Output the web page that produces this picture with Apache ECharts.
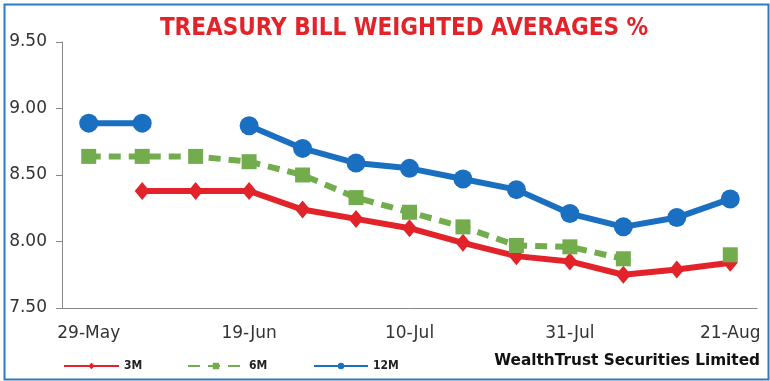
<!DOCTYPE html>
<html><head><meta charset="utf-8">
<script src="https://cdn.jsdelivr.net/npm/echarts@6/dist/echarts.min.js"></script>
<style>html,body{margin:0;padding:0;background:#fff}#c{width:770px;height:381px}</style>
</head><body><div id="c"></div>
<script>
const categories = ['29-May','5-Jun','12-Jun','19-Jun','26-Jun','3-Jul','10-Jul','17-Jul','24-Jul','31-Jul','7-Aug','14-Aug','21-Aug'];
const m3  = [null, 8.38, 8.38, 8.38, 8.24, 8.17, 8.10, 7.99, 7.89, 7.85, 7.75, 7.79, 7.84];
const m6  = [8.64, 8.64, 8.64, 8.60, 8.50, 8.33, 8.22, 8.11, 7.97, 7.96, 7.87, null, 7.90];
const m12 = [8.89, 8.89, null, 8.87, 8.70, 8.59, 8.55, 8.47, 8.39, 8.21, 8.11, 8.18, 8.32];
const yTicks = ['7.50','8.00','8.50','9.00','9.50'];

const RED='#e2242a', GREEN='#72ac4d', BLUE='#1a6fc0';
const chart = echarts.init(document.getElementById('c'));
const legTxt = {fontFamily:'DejaVu Sans Condensed', fontWeight:'bold', fontSize:12, color:'#222'};
chart.setOption({
  animation:false,
  title:{text:'TREASURY BILL WEIGHTED AVERAGES %', left:399, textAlign:'center', top:12,
    textStyle:{fontFamily:'DejaVu Sans Condensed', fontWeight:'bold', fontSize:24, color:'#e2242a'}},
  grid:{left:62, right:13, top:42, bottom:73},
  xAxis:{type:'category', data:categories, boundaryGap:true,
    axisLine:{lineStyle:{color:'#888', width:1}},
    axisTick:{interval:0, length:6, lineStyle:{color:'#888'}},
    axisLabel:{interval:2, margin:17, fontFamily:'DejaVu Sans', fontSize:17, color:'#333'}},
  yAxis:{type:'value', min:7.5, max:9.5, interval:0.5,
    axisLine:{show:true, lineStyle:{color:'#888'}},
    axisTick:{show:true, length:6, lineStyle:{color:'#888'}},
    splitLine:{show:false},
    axisLabel:{margin:15, fontFamily:'DejaVu Sans', fontSize:17, color:'#333',
      formatter:v=>yTicks.find(t=>Math.abs(parseFloat(t)-v)<1e-6) || v.toFixed(2)}},
  legend:[
    {data:['3M'], left:58, top:355, itemWidth:55, itemHeight:8, itemGap:4, textStyle:legTxt},
    {data:['6M'], left:182, top:355, itemWidth:56, itemHeight:8, textStyle:legTxt},
    {data:['12M'], left:308, top:355, itemWidth:54, itemHeight:8, textStyle:legTxt}
  ],
  graphic:[
    {type:'rect', left:2, top:2, shape:{width:764, height:375}, style:{fill:'none', stroke:'#2b7bbd', lineWidth:2}},
    {type:'text', right:10, top:354, style:{text:'WealthTrust Securities Limited', fontFamily:'DejaVu Sans', fontWeight:'bold', fontSize:15.3, fill:'#111'}}
  ],
  series:[
    {name:'3M', type:'line', data:m3, symbol:'diamond', symbolSize:[15,18], connectNulls:false,
      lineStyle:{color:RED, width:6}, itemStyle:{color:RED}},
    {name:'6M', type:'line', data:m6, symbol:'rect', symbolSize:15, connectNulls:false,
      lineStyle:{color:GREEN, width:6, type:[12,8]}, itemStyle:{color:GREEN}},
    {name:'12M', type:'line', data:m12, symbol:'circle', symbolSize:19, connectNulls:false,
      lineStyle:{color:BLUE, width:6}, itemStyle:{color:BLUE}}
  ]
});
</script></body></html>
